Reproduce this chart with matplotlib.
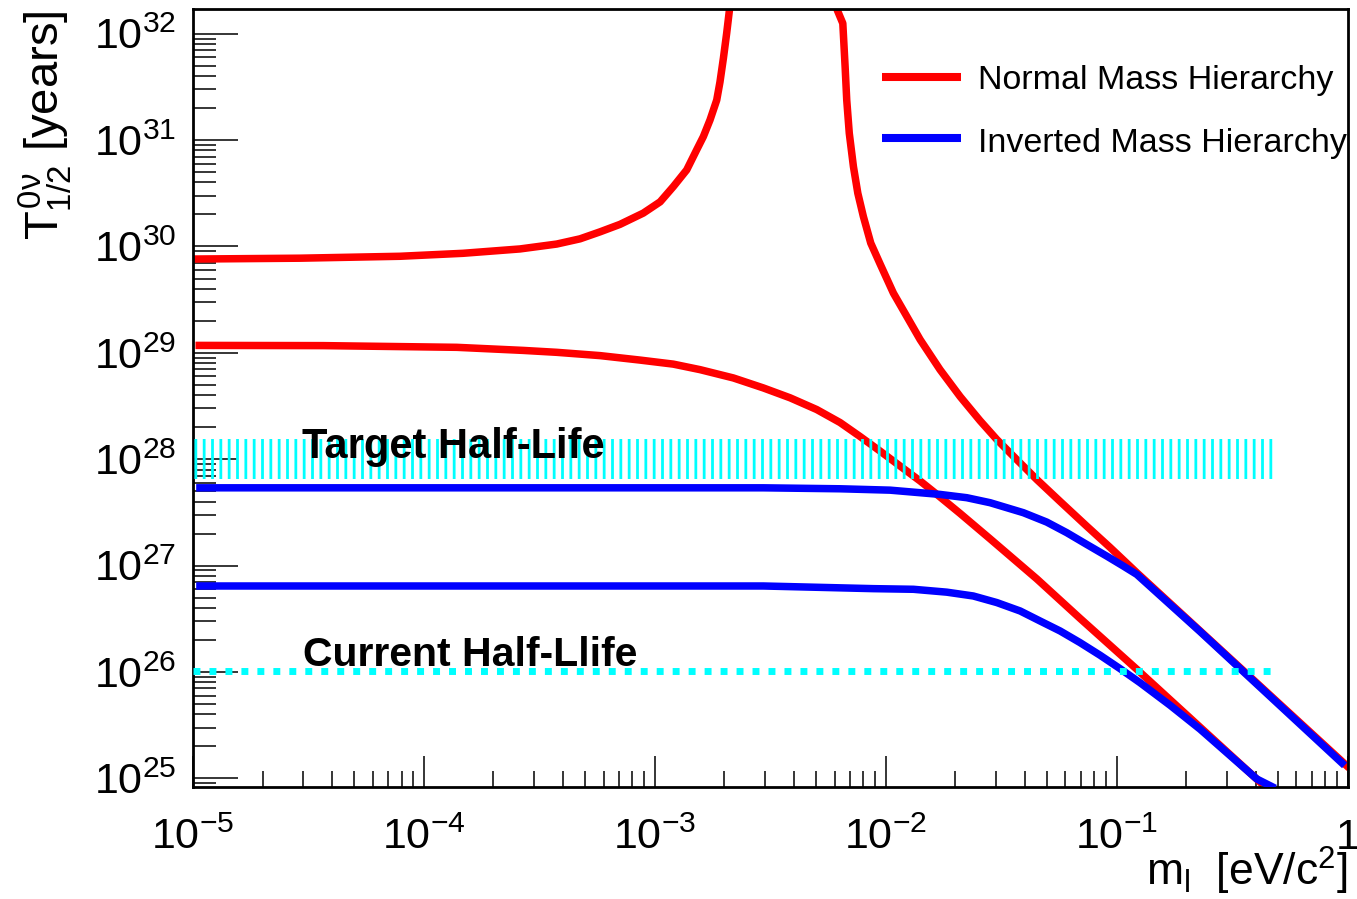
import numpy as np
import matplotlib
matplotlib.use("Agg")
import matplotlib.pyplot as plt
from matplotlib.ticker import LogLocator, NullFormatter, FuncFormatter
from matplotlib.transforms import blended_transform_factory

plt.rcParams["font.family"] = "Liberation Sans"
plt.rcParams["mathtext.fontset"] = "custom"
plt.rcParams["mathtext.rm"] = "Liberation Sans"
plt.rcParams["mathtext.it"] = "Liberation Sans"
plt.rcParams["mathtext.bf"] = "Liberation Sans:bold"
plt.rcParams["hatch.linewidth"] = 2.0

# band edges as log10(m_lightest / eV) and log10(T_1/2 / yr)
nh_max_left_logm = [-5.000, -4.537, -4.104, -3.831, -3.584, -3.425, -3.324, -3.237,
                    -3.151, -3.050, -2.977, -2.920, -2.862, -2.819, -2.790, -2.761,
                    -2.732, -2.718, -2.703, -2.689, -2.677, -2.673]
nh_max_left_logt = [29.882, 29.890, 29.908, 29.936, 29.977, 30.023, 30.072, 30.138,
                    30.208, 30.314, 30.420, 30.563, 30.720, 30.908, 31.033, 31.190,
                    31.377, 31.546, 31.772, 32.004, 32.223, 32.288]

nh_max_right_logm = [-2.213, -2.210, -2.186, -2.176, -2.169, -2.158, -2.140, -2.121,
                     -2.097, -2.065, -2.025, -1.967, -1.909, -1.851, -1.765, -1.678,
                     -1.592, -1.519, -1.433, -1.346, -1.245, -1.130, -1.029, -0.913,
                     -0.005]
nh_max_right_logt = [32.288, 32.223, 32.098, 31.690, 31.377, 31.065, 30.751, 30.501,
                     30.282, 30.032, 29.838, 29.562, 29.343, 29.124, 28.842, 28.589,
                     28.363, 28.185, 27.997, 27.809, 27.603, 27.371, 27.171, 26.933,
                     25.120]

nh_min_logm = [-4.973, -4.436, -3.858, -3.570, -3.425, -3.237, -3.064, -2.920, -2.804,
               -2.660, -2.530, -2.414, -2.299, -2.198, -2.111, -2.025, -1.938, -1.851,
               -1.779, -1.678, -1.548, -1.447, -1.346, -1.159, -0.913, -0.379]
nh_min_logt = [29.070, 29.068, 29.052, 29.023, 29.005, 28.974, 28.932, 28.894, 28.842,
               28.764, 28.670, 28.577, 28.467, 28.345, 28.213, 28.077, 27.936, 27.795,
               27.670, 27.490, 27.251, 27.063, 26.875, 26.504, 26.025, 24.964]

ih_max_logm = [-4.970, -2.530, -2.198, -1.981, -1.765, -1.649, -1.548, -1.476, -1.404,
               -1.303, -1.216, -1.130, -1.043, -0.971, -0.913, -0.639, -0.025]
ih_max_logt = [27.731, 27.731, 27.722, 27.709, 27.669, 27.638, 27.591, 27.544, 27.497,
               27.409, 27.309, 27.199, 27.089, 26.995, 26.917, 26.380, 25.145]

ih_min_logm = [-4.970, -2.530, -2.054, -1.880, -1.736, -1.621, -1.519, -1.418, -1.332,
               -1.245, -1.159, -1.072, -0.985, -0.899, -0.769, -0.639, -0.393, -0.328]
ih_min_logt = [26.808, 26.808, 26.783, 26.777, 26.750, 26.714, 26.652, 26.573, 26.479,
               26.385, 26.276, 26.157, 26.030, 25.899, 25.687, 25.462, 24.993, 24.922]

# sensitivity levels
limit_m = [1.0e-5, 0.49]
target_lo, target_hi = 6.5e27, 1.56e28
current_halflife = 1.02e26

x_ticks = [1e-5, 1e-4, 1e-3, 1e-2, 1e-1, 1.0]
x_tick_labels = [r"$10^{-5}$", r"$10^{-4}$", r"$10^{-3}$", r"$10^{-2}$", r"$10^{-1}$", "1"]
legend_labels = ["Normal Mass Hierarchy", "Inverted Mass Hierarchy"]

RED = "#ff0000"
BLUE = "#0000ff"
CYAN = "#00ffff"


def p10(a):
    return np.power(10.0, a)


fig = plt.figure(figsize=(13.57, 8.99), dpi=100)
ax = fig.add_axes([193 / 1357, 1 - 787 / 899, 1154.6 / 1357, 778 / 899])

lw = 5.4
ax.plot(p10(nh_max_left_logm), p10(nh_max_left_logt), color=RED, lw=lw, zorder=2)
ax.plot(p10(nh_max_right_logm), p10(nh_max_right_logt), color=RED, lw=lw, zorder=2)
ax.plot(p10(nh_min_logm), p10(nh_min_logt), color=RED, lw=lw, zorder=2)
ax.plot(p10(ih_max_logm), p10(ih_max_logt), color=BLUE, lw=lw, zorder=3)
ax.plot(p10(ih_min_logm), p10(ih_min_logt), color=BLUE, lw=lw, zorder=3)

# target: hatched band around 1e28, current: dotted line
ax.fill_between(limit_m, [target_lo] * 2, [target_hi] * 2, facecolor="none",
                edgecolor=CYAN, hatch="||", linewidth=0, zorder=4)
ax.plot(limit_m, [current_halflife] * 2, color=CYAN, lw=5, linestyle=(0, (1.0, 1.3)),
        dash_capstyle="butt", zorder=4)

ax.text(2.96e-5, 1.03e28, "Target Half-Life", fontsize=30, fontweight="bold",
        va="baseline", ha="left", zorder=6)
ax.text(3.0e-5, 1.13e26, "Current Half-Llife", fontsize=29.5, fontweight="bold",
        va="baseline", ha="left", zorder=6)

ax.set_xscale("log")
ax.set_yscale("log")
ax.set_xlim(1e-5, 1.0)
ax.set_ylim(8.28e24, 1.71e32)

for sp in ax.spines.values():
    sp.set_linewidth(2.0)

ax.yaxis.set_major_locator(LogLocator(base=10, numticks=30))
ax.yaxis.set_minor_locator(LogLocator(base=10, subs=np.arange(2, 10), numticks=200))
ax.yaxis.set_major_formatter(FuncFormatter(lambda v, p: r"$10^{%d}$" % round(np.log10(v))))
ax.yaxis.set_minor_formatter(NullFormatter())
ax.xaxis.set_major_locator(LogLocator(base=10, numticks=30))
ax.xaxis.set_minor_locator(LogLocator(base=10, subs=np.arange(2, 10), numticks=200))
ax.xaxis.set_major_formatter(NullFormatter())
ax.xaxis.set_minor_formatter(NullFormatter())

ax.tick_params(axis="y", which="major", direction="in", length=32.4, width=1.1,
               pad=12, labelsize=31, left=True, right=False)
ax.tick_params(axis="y", which="minor", direction="in", length=16.6, width=1.1,
               left=True, right=False)
ax.tick_params(axis="x", which="major", direction="in", length=22.3, width=1.1,
               bottom=True, top=False, labelbottom=False)
ax.tick_params(axis="x", which="minor", direction="in", length=11.3, width=1.1,
               bottom=True, top=False, labelbottom=False)

# x tick labels sit on a common baseline below the axis
trans = blended_transform_factory(ax.transData, ax.transAxes)
for v, lab in zip(x_ticks, x_tick_labels):
    ax.text(v, -62 / 778, lab, transform=trans, ha="center", va="baseline",
            fontsize=31, clip_on=False)

# legend
key_y = [0.913, 0.8338]
text_y = [0.8968, 0.8166]
for ky, ty, col, lab in zip(key_y, text_y, [RED, BLUE], legend_labels):
    ax.plot([0.5965, 0.6652], [ky, ky], transform=ax.transAxes, color=col, lw=5.8,
            solid_capstyle="butt", clip_on=False, zorder=6)
    ax.text(0.6801, ty, lab, transform=ax.transAxes, fontsize=24.5, ha="left",
            va="baseline", zorder=6, clip_on=False)

fig.text(45 / 1357, 1 - 10 / 899, r"$T^{0\nu}_{1/2}$ [years]", rotation=90,
         ha="center", va="top", fontsize=34)
fig.text(1347 / 1357, 1 - 897 / 899, r"$m_{l}$  [eV/c$^{2}$]", ha="right",
         va="bottom", fontsize=32)

fig.savefig("out.png", dpi=100)
